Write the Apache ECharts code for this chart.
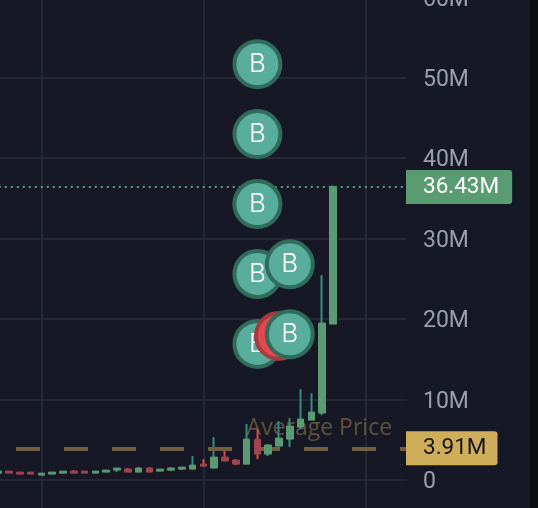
<!DOCTYPE html>
<html>
<head>
<meta charset="utf-8">
<style>html,body{margin:0;padding:0;background:#161925}#c{width:538px;height:508px}</style>
<script src="https://cdn.jsdelivr.net/npm/echarts@6/dist/echarts.min.js"></script>
</head>
<body>
<div id="c"></div>
<script>
// values in millions
const categories = Array.from({length: 39}, (_, i) => String(i + 1));
const opens  = [0.83,1.08,0.96,0.96,0.58,0.71,0.83,1.08,1.08,0.83,0.96,1.21,1.33,0.96,1.46,1.08,1.21,1.33,1.33,1.95,1.46,2.82,2.45,1.95,5.06,3.2,4.19,5.06,6.55,7.43,8.3,19.37];
const closes = [1.08,0.83,0.71,0.71,0.83,0.96,1.08,0.83,0.83,1.08,1.21,1.46,0.96,1.46,0.96,1.33,1.46,1.58,1.83,1.7,2.82,2.33,1.95,5.06,3.2,4.32,5.19,6.68,7.55,8.42,19.5,36.43];
const lows   = [0.83,0.83,0.71,0.71,0.58,0.71,0.83,0.83,0.83,0.83,0.96,0.96,0.96,0.96,0.96,1.08,1.08,1.21,1.33,1.7,1.46,2.33,1.83,1.95,2.57,2.95,4.19,4.07,6.31,7.43,8.05,19.37];
const highs  = [1.08,1.08,0.96,0.96,0.83,0.96,1.08,1.21,1.08,1.08,1.21,1.46,1.46,1.58,1.58,1.33,1.58,1.58,2.95,2.57,5.31,3.94,2.57,6.93,6.31,4.44,7.3,7.67,11.28,10.78,25.46,36.65];
const yTicks = {min: -10, max: 60, interval: 10};
const lastPrice = 36.43;
const averagePrice = 3.91;
const averageLabel = 'Average Price';
const averageLabelAt = [23, 6.35];
const buysBehind = [[24, 51.7], [24, 43], [24, 34.3], [24, 25.6], [24, 16.9]];
const sells = [[26, 17.9]];
const buysFront = [[27, 26.8], [27, 18.1]];
const verticalLineIndex = [4, 19, 34];

const fmtM = v => '{a|' + (v === 0 ? '0' : v + 'M') + '}';
const wickData = opens.map((o, i) => [o, closes[i], lows[i], highs[i]]);
const bodyData = opens.map((o, i) => [o, closes[i], Math.min(o, closes[i]), Math.max(o, closes[i])]);

const marker = (name, data, fill, ring, z, text) => ({
  name, type: 'scatter', data, z, symbol: 'circle', symbolSize: 46, clip: false,
  itemStyle: {color: fill, borderColor: ring, borderWidth: 4, opacity: 1},
  label: {show: true, position: 'inside', formatter: text, color: '#fff',
    fontFamily: 'Inter', fontSize: 26, fontWeight: 300}
});

const chart = echarts.init(document.getElementById('c'), null, {renderer: 'canvas'});
chart.setOption({
  animation: false,
  backgroundColor: '#161925',
  grid: {left: -7.2, width: 421.2, top: -2.6, height: 562.8, outerBoundsMode: 'none', containLabel: false},
  xAxis: {
    type: 'category', data: categories, boundaryGap: true,
    axisLine: {show: false}, axisTick: {show: false}, axisLabel: {show: false},
    splitLine: {show: true, alignWithLabel: true, interval: i => verticalLineIndex.includes(i),
      lineStyle: {color: '#242832', width: 2}}
  },
  yAxis: {
    type: 'value', position: 'right', min: yTicks.min, max: yTicks.max, interval: yTicks.interval,
    axisLine: {show: false}, axisTick: {show: false},
    axisLabel: {margin: 9, formatter: fmtM,
      rich: {a: {color: '#9a9fab', fontFamily: 'Roboto', fontSize: 23, lineHeight: 24, padding: [5, 0, 0, 0]}}},
    splitLine: {show: true, lineStyle: {color: '#242832', width: 2}}
  },
  graphic: [
    {type: 'rect', z: 1, shape: {x: 406, y: 0, width: 8, height: 508}, style: {fill: '#161925'}},
    {type: 'rect', z: 100, shape: {x: 530, y: 0, width: 8, height: 508}, style: {fill: '#0c0d11'}}
  ],
  series: [
    {
      name: 'Reference levels', type: 'scatter', data: [], z: 2, silent: true,
      markLine: {
        silent: true, symbol: 'none', animation: false,
        data: [
          {yAxis: averagePrice,
            lineStyle: {type: [24, 24], dashOffset: 24.8, color: '#70603f', width: 4},
            label: {show: true, position: 'end', distance: 0, offset: [-8, 0], formatter: averagePrice + 'M',
              color: '#14161c', backgroundColor: '#cfae5a', fontFamily: 'Roboto', fontSize: 22.5,
              padding: [8, 11, 4, 17], borderRadius: [0, 3, 3, 0], lineHeight: 22}},
          {yAxis: lastPrice,
            lineStyle: {type: [2, 4], color: '#5a9c72', width: 2},
            label: {show: true, position: 'end', distance: 0, offset: [-8, 0], formatter: lastPrice + 'M',
              color: '#fff', backgroundColor: '#5a9c72', fontFamily: 'Roboto', fontSize: 22.5,
              padding: [8, 13, 4, 17], borderRadius: [0, 3, 3, 0], lineHeight: 22}}
        ]
      }
    },
    {
      name: 'Average label', type: 'scatter', data: [averageLabelAt], z: 3, symbolSize: 0, silent: true,
      label: {show: true, position: 'right', distance: 0, formatter: averageLabel,
        color: '#70603f', fontFamily: 'Open Sans', fontSize: 23}
    },
    {
      name: 'Wicks', type: 'candlestick', data: wickData, barWidth: 1, z: 4, clip: false,
      itemStyle: {color: '#2f8f80', color0: '#e5434b', borderColor: '#2f8f80', borderColor0: '#e5434b', borderWidth: 2}
    },
    {
      name: 'Bodies', type: 'candlestick', data: bodyData, barWidth: 7, z: 5, clip: false,
      itemStyle: {color: '#5a9c72', color0: '#a0454c', borderColor: '#5a9c72', borderColor0: '#a0454c', borderWidth: 1}
    },
    marker('Buys behind', buysBehind, '#58ae9a', '#2f6c5c', 6, 'B'),
    marker('Sell', sells, '#e5484d', '#a83a3f', 7, 'S'),
    marker('Buys front', buysFront, '#58ae9a', '#2f6c5c', 8, 'B')
  ]
});
</script>
</body>
</html>
